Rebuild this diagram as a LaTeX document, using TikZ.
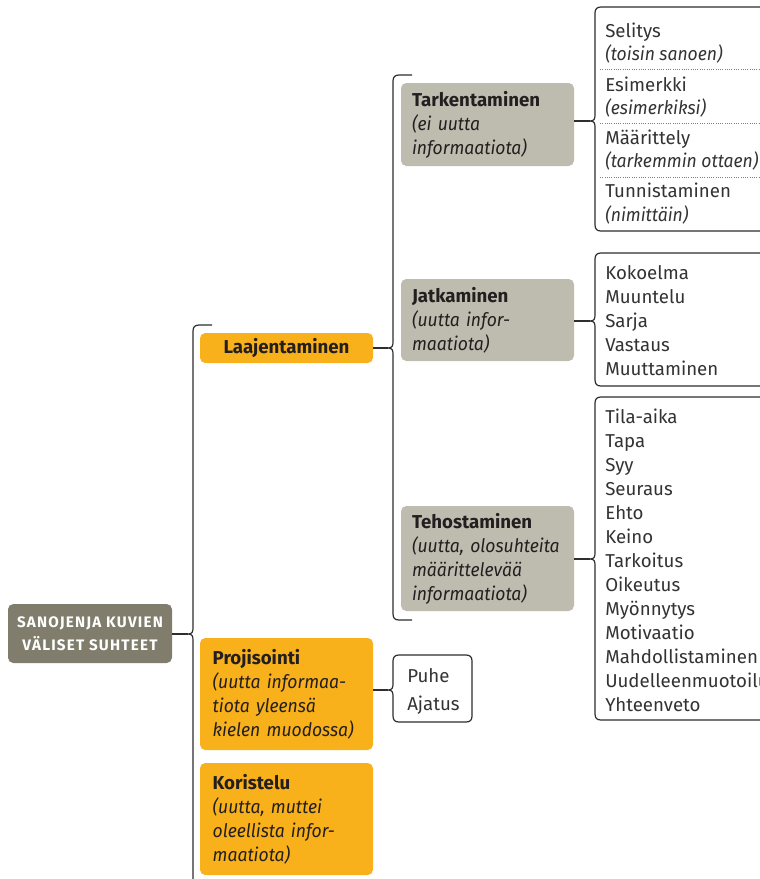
\documentclass[tikz,border=0pt]{standalone}
\usepackage{fontspec}
\setmainfont{Fira Sans}[ItalicFeatures={FakeStretch=0.94}]
\newfontfamily\rootfont{Fira Sans}[LetterSpace=8]
\definecolor{orangef}{HTML}{F8B01B}
\definecolor{grayf}{HTML}{BDBCAF}
\definecolor{rootf}{HTML}{807D6C}
\definecolor{linec}{HTML}{2E2E2E}
\definecolor{txtc}{HTML}{231F20}
\definecolor{itemc}{HTML}{333333}
\newcommand\mainsz{\fontsize{14}{18}\selectfont}
% open brace: X, top, bottom, tip y, hook x
\newcommand\openbrace[5]{%
  \draw[ln] (#5,#2) -- (#1+6,#2) .. controls (#1+2,#2) and (#1,#2+2) .. (#1,#2+6)
    -- (#1,#4-6) .. controls (#1,#4-2) and (#1-1,#4) .. (#1-5,#4)
    .. controls (#1-1,#4) and (#1,#4+2) .. (#1,#4+6)
    -- (#1,#3-6) .. controls (#1,#3-2) and (#1+2,#3) .. (#1+6,#3) -- (#5,#3);}
% closed brace box: X, top, bottom, tip y, right x
\newcommand\bracebox[5]{%
  \draw[ln] (#1+6,#2) -- (#5-6,#2) .. controls (#5-2,#2) and (#5,#2+2) .. (#5,#2+6)
    -- (#5,#3-6) .. controls (#5,#3-2) and (#5-2,#3) .. (#5-6,#3)
    -- (#1+6,#3) .. controls (#1+2,#3) and (#1,#3-2) .. (#1,#3-6)
    -- (#1,#4+6) .. controls (#1,#4+2) and (#1-1,#4) .. (#1-5,#4)
    .. controls (#1-1,#4) and (#1,#4-2) .. (#1,#4-6)
    -- (#1,#2+6) .. controls (#1,#2+2) and (#1+2,#2) .. (#1+6,#2) -- cycle;}
\begin{document}
\begin{tikzpicture}[x=0.75pt,y=-0.75pt,
  ln/.style={draw=linec, line width=0.9pt},
  sep/.style={draw=gray, line width=0.7pt, densely dotted},
  boxbase/.style={rectangle, rounded corners=4pt, inner xsep=9.5pt, inner ysep=2pt,
    text width=110.75pt, align=left, font=\mainsz, text=txtc},
  graybox/.style={boxbase, fill=grayf, inner xsep=8.25pt, text width=113.25pt},
  orbox/.style={boxbase, fill=orangef},
  item/.style={anchor=base west, inner sep=0pt, font=\mainsz, text=itemc}]
\clip (0,0) rectangle (760,879);
\fill[white] (0,0) rectangle (760,879);

% root
\node[rectangle, rounded corners=4pt, fill=rootf, minimum width=123pt, minimum height=44.25pt,
  align=center, text=white, font=\rootfont\fontsize{11.4}{17.25}\selectfont\bfseries, inner sep=0pt]
  (root) at (90,633.5) {SANOJENJA KUVIEN\\VÄLISET SUHTEET};

% level 1
\node[orbox, minimum height=22.5pt, align=center] (laaj) at (286.5,348) {\textbf{Laajentaminen}};
\node[orbox, minimum height=84pt] (proj) at (286.5,694)
  {\textbf{Projisointi}\\\textit{(uutta informaa-}\\\textit{tiota yleensä}\\\textit{kielen muodossa)}};
\node[orbox, minimum height=84pt] (kor) at (286.5,819)
  {\textbf{Koristelu}\\\textit{(uutta, muttei}\\\textit{oleellista infor-}\\\textit{maatiota)}};

% level 2
\node[graybox, minimum height=62.25pt] (tark) at (487.5,124.5)
  {\textbf{Tarkentaminen}\\\textit{(ei uutta}\\\textit{informaatiota)}};
\node[graybox, minimum height=61.5pt] (jatk) at (487.5,320)
  {\textbf{Jatkaminen}\\\textit{(uutta infor-}\\\textit{maatiota)}};
\node[graybox, minimum height=78.75pt] (teho) at (487.5,558.5)
  {\textbf{Tehostaminen}\\\mbox{\textit{(uutta, olosuhteita}}\\\textit{määrittelevää}\\\textit{informaatiota)}};

% tips of braces
\coordinate (tR) at (188,634);
\coordinate (tL) at (388,348);
\coordinate (tT) at (590,121);
\coordinate (tJ) at (590,321);
\coordinate (tH) at (590,559);
\coordinate (tP) at (388,690);

% root brace
\draw[ln] (212,325) -- (199,325) .. controls (195,325) and (193,327) .. (193,331)
  -- (193,628) .. controls (193,632) and (192,634) .. (188,634)
  .. controls (192,634) and (193,636) .. (193,640) -- (193,895);
\draw[ln] (root.east |- tR) -- (tR);

% level-2 brace
\openbrace{393}{75}{620}{348}{412}
\draw[ln] (laaj.east |- tL) -- (tL);

% list frames
\bracebox{595}{7}{231}{121}{800}
\bracebox{595}{253}{386}{321}{800}
\bracebox{595}{397}{720}{559}{800}
\bracebox{393}{655}{722}{690}{472}
\draw[ln] (tark.east |- tT) -- (tT);
\draw[ln] (jatk.east |- tJ) -- (tJ);
\draw[ln] (teho.east |- tH) -- (tH);
\draw[ln] (proj.east |- tP) -- (tP);

% dotted separators
\coordinate (d1) at (600,69);
\coordinate (d2) at (600,123);
\coordinate (d3) at (600,177);
\draw[sep] (d1) -- ++(170,0);
\draw[sep] (d2) -- ++(170,0);
\draw[sep] (d3) -- ++(170,0);

% list 1
\node[item] (a1) at (605,37) {Selitys};
\node[item] (a2) at (605,60) {\textit{(toisin sanoen)}};
\node[item] (a3) at (605,91) {Esimerkki};
\node[item] (a4) at (605,114) {\textit{(esimerkiksi)}};
\node[item] (a5) at (605,144) {Määrittely};
\node[item] (a6) at (605,167) {\textit{(tarkemmin ottaen)}};
\node[item] (a7) at (605,197) {Tunnistaminen};
\node[item] (a8) at (605,221) {\textit{(nimittäin)}};

% list 2
\foreach \t [count=\i from 0] in {Kokoelma,Muuntelu,Sarja,Vastaus,Muuttaminen}
  \node[item] (b\i) at (605,279+24*\i) {\t};

% list 3
\foreach \t [count=\i from 0] in {Tila-aika,Tapa,Syy,Seuraus,Ehto,Keino,Tarkoitus,Oikeutus,Myönnytys,Motivaatio,Mahdollistaminen,Uudelleenmuotoilu,Yhteenveto}
  \node[item] (c\i) at (605,423+24*\i) {\t};

% Puhe / Ajatus
\node[item] (p1) at (407,682) {Puhe};
\node[item] (p2) at (407,710) {Ajatus};
\end{tikzpicture}
\end{document}
